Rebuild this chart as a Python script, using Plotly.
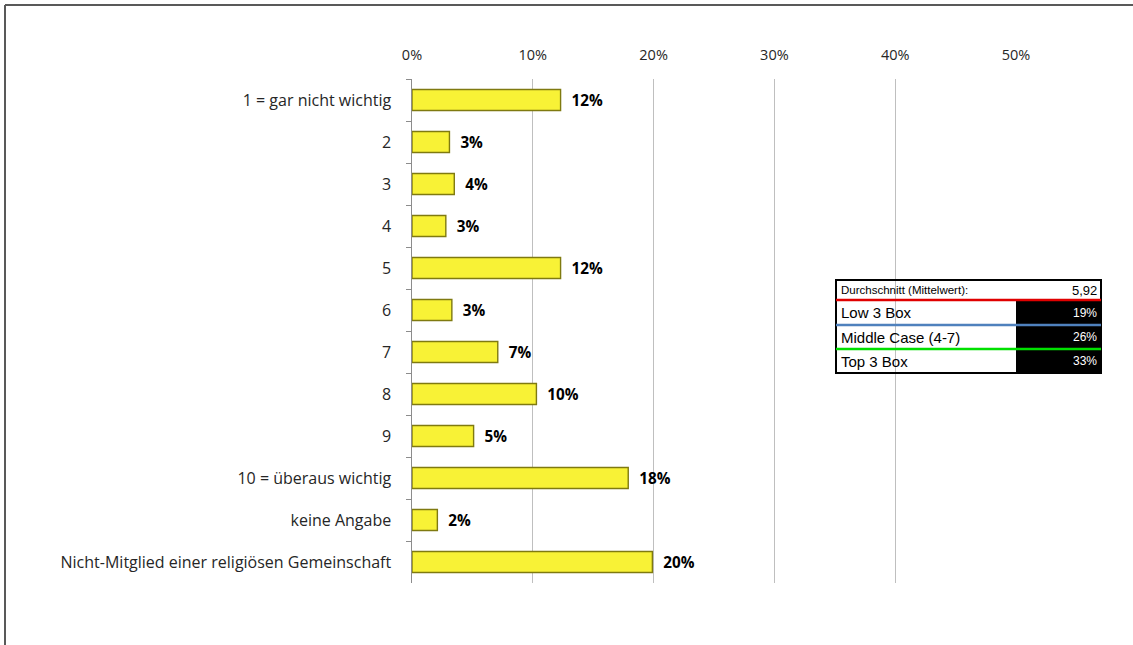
import plotly.graph_objects as go

categories = ["1 = gar nicht wichtig", "2", "3", "4", "5", "6", "7", "8", "9",
              "10 = überaus wichtig", "keine Angabe",
              "Nicht-Mitglied einer religiösen Gemeinschaft"]
values = [0.123, 0.031, 0.035, 0.028, 0.123, 0.033, 0.071, 0.103, 0.051, 0.179, 0.021, 0.199]
labels = ["12%", "3%", "4%", "3%", "12%", "3%", "7%", "10%", "5%", "18%", "2%", "20%"]

summary_labels = ["Durchschnitt (Mittelwert):", "Low 3 Box", "Middle Case (4-7)", "Top 3 Box"]
summary_values = ["5,92", "19%", "26%", "33%"]

W, H = 1133, 645
L, R, T, B = 412, 1016, 79, 583

def px(x):
    return (x - L) / (R - L)

def py(y):
    return (B - y) / (B - T)

fig = go.Figure()
fig.add_trace(go.Bar(
    y=categories, x=values, orientation="h",
    marker=dict(color="#F8F236", line=dict(color="#7F7A10", width=1.4)),
    text=labels, texttemplate="  %{text}", textposition="outside",
    textfont=dict(family="Open Sans, Arial", size=16, color="black", weight="bold"),
    cliponaxis=False, width=0.5,
))

shapes = []
# outer frame
shapes.append(dict(type="line", xref="paper", yref="paper", x0=px(5), x1=px(W), y0=py(5), y1=py(5),
                   line=dict(color="#595959", width=2)))
shapes.append(dict(type="line", xref="paper", yref="paper", x0=px(5), x1=px(5), y0=py(5), y1=py(H),
                   line=dict(color="#595959", width=2)))

# summary table
tx0, tx1, tmid = 836, 1101, 1016
rows = [280, 300, 325, 349, 373]
for i in range(1, 4):
    shapes.append(dict(type="rect", xref="paper", yref="paper", x0=px(tmid), x1=px(tx1),
                       y0=py(rows[i]), y1=py(rows[i + 1]), fillcolor="black", line=dict(width=0)))
shapes.append(dict(type="rect", xref="paper", yref="paper", x0=px(tx0), x1=px(tx1),
                   y0=py(rows[0]), y1=py(rows[-1]), line=dict(color="black", width=2)))
sep_colors = ["#E00000", "#4F81BD", "#00E000"]
for i, c in enumerate(sep_colors):
    shapes.append(dict(type="line", xref="paper", yref="paper", x0=px(tx0), x1=px(tx1),
                       y0=py(rows[i + 1]), y1=py(rows[i + 1]), line=dict(color=c, width=2.5)))

annotations = []
for i, (lab, val) in enumerate(zip(summary_labels, summary_values)):
    yc = py((rows[i] + rows[i + 1]) / 2)
    annotations.append(dict(xref="paper", yref="paper", x=px(tx0 + 3), y=yc, text=lab,
                            showarrow=False, xanchor="left", yanchor="middle",
                            font=dict(family="Liberation Sans, Arial", size=11.5 if i == 0 else 15,
                                      color="black")))
    annotations.append(dict(xref="paper", yref="paper", x=px(tx1 - 2), y=yc, text=val,
                            showarrow=False, xanchor="right", yanchor="middle",
                            font=dict(family="Liberation Sans, Arial", size=13 if i == 0 else 12,
                                      color="black" if i == 0 else "white")))

fig.update_layout(
    width=W, height=H,
    margin=dict(l=L, r=W - R, t=T, b=H - B, pad=0),
    plot_bgcolor="white", paper_bgcolor="white",
    showlegend=False,
    shapes=shapes, annotations=annotations,
    font=dict(family="Open Sans, Arial", size=14, color="#262626"),
)
fig.update_xaxes(side="top", range=[0, 0.5], dtick=0.1, tickformat=".0%",
                 showgrid=True, gridcolor="#BFBFBF", gridwidth=1, zeroline=False,
                 showline=False, ticks="", ticklabelstandoff=15,
                 tickfont=dict(size=14.5, color="#262626"))
fig.update_yaxes(autorange="reversed", showline=True, linecolor="#8C8C8C", linewidth=1,
                 ticks="outside", ticklen=5, tickcolor="#8C8C8C", tickson="boundaries",
                 showgrid=False, ticksuffix="    ", tickfont=dict(size=16, color="#262626"))

fig.write_html("out.html", config={"displayModeBar": False},
               post_script="document.body.style.margin='0';")
